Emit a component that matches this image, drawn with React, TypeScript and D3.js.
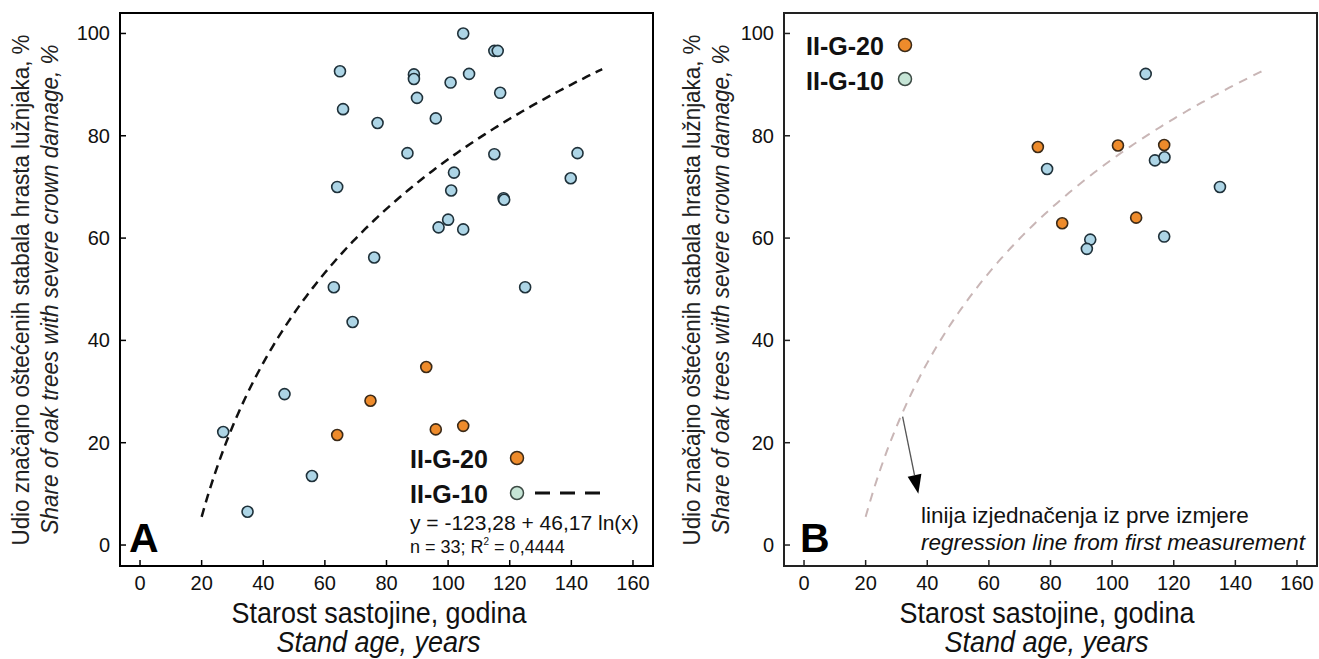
import React from "react";
import * as d3 from "d3";

// ---------- data ----------
const xTicks = [0, 20, 40, 60, 80, 100, 120, 140, 160];
const yTicks = [0, 20, 40, 60, 80, 100];

// Panel A – first measurement
const ageA_G10 = [104.9, 115.0, 116.1, 64.9, 88.9, 88.9, 106.8, 100.8, 116.9, 89.9, 65.9, 96.0, 77.1, 86.8, 115.0, 142.0, 101.9, 139.8, 64.0, 101.0, 118.0, 118.2, 100.0, 96.9, 104.9, 76.0, 62.9, 125.0, 69.0, 46.9, 27.0, 55.8, 34.9];
const damageA_G10 = [100, 96.6, 96.6, 92.6, 92.0, 91.1, 92.1, 90.4, 88.4, 87.4, 85.2, 83.4, 82.5, 76.6, 76.4, 76.6, 72.8, 71.7, 70.0, 69.3, 67.8, 67.5, 63.6, 62.1, 61.7, 56.2, 50.4, 50.4, 43.6, 29.5, 22.1, 13.5, 6.5];
const ageA_G20 = [92.9, 74.8, 64.0, 96.0, 104.9];
const damageA_G20 = [34.8, 28.2, 21.5, 22.6, 23.3];

// Panel B – second measurement
const ageB_G20 = [75.9, 101.9, 116.9, 83.8, 107.8];
const damageB_G20 = [77.8, 78.1, 78.2, 62.9, 64.0];
const ageB_G10 = [110.9, 78.9, 113.9, 117.0, 135.0, 92.9, 91.8, 116.9];
const damageB_G10 = [92.1, 73.5, 75.2, 75.8, 70.0, 59.7, 57.9, 60.3];

// logarithmic regression line as drawn: y = a + b ln(x), x in [20, 150]
const regA = -124.6;
const regB = 43.43;
const regRange = [20, 150];

const legendLabels = ["II-G-20", "II-G-10"];
const equationText = "y = -123,28 + 46,17 ln(x)";

// ---------- style ----------
const FONT = "'Liberation Sans', Arial, Helvetica, sans-serif";
const BLUE = "#add5e6";
const BLUE_STROKE = "#1f313a";
const ORANGE = "#ee8b2b";
const ORANGE_STROKE = "#3b2a18";
const MINT = "#c6e5d6";

const TOP = 13;
const BOTTOM = 566;

function Panel({ left, right, letter, frameColor, children, xTitleShift, yTitleX }: any) {
  const x = d3.scaleLinear().domain([-6.5, 166.5]).range([left, right]);
  const y = d3.scaleLinear().domain([-4.1, 104]).range([BOTTOM, TOP]);
  const cy = (TOP + BOTTOM) / 2;
  const cx = (left + right) / 2 + xTitleShift;
  return (
    <g>
      {children(x, y)}
      <rect x={left} y={TOP} width={right - left} height={BOTTOM - TOP} fill="none" stroke={frameColor} strokeWidth={2} />
      {xTicks.map((t) => (
        <g key={"xt" + t}>
          <line x1={x(t)} x2={x(t)} y1={BOTTOM} y2={BOTTOM - 6} stroke={frameColor} strokeWidth={1.5} />
          <text x={x(t)} y={BOTTOM + 24} textAnchor="middle" fontSize={20} fontFamily={FONT} fill="#111">{t}</text>
        </g>
      ))}
      {yTicks.map((t) => (
        <g key={"yt" + t}>
          <line x1={left} x2={left + 6} y1={y(t)} y2={y(t)} stroke={frameColor} strokeWidth={1.5} />
          <text x={left - 10} y={y(t) + 7} textAnchor="end" fontSize={20} fontFamily={FONT} fill="#111">{t}</text>
        </g>
      ))}
      <text x={left + (letter === "A" ? 9 : 16)} y={BOTTOM - 14} fontSize={41} fontWeight="bold" fontFamily={FONT} fill="#000">{letter}</text>
      <text x={cx - 147} y={623} fontSize={29} fontFamily={FONT} fill="#111" textLength={295} lengthAdjust="spacingAndGlyphs">Starost sastojine, godina</text>
      <text x={cx - 102} y={652} fontSize={29} fontStyle="italic" fontFamily={FONT} fill="#111" textLength={204} lengthAdjust="spacingAndGlyphs">Stand age, years</text>
      <text transform={`translate(${yTitleX[0]},${cy + 256}) rotate(-90)`} fontSize={23.5} fontFamily={FONT} fill="#222" textLength={511} lengthAdjust="spacingAndGlyphs">Udio značajno oštećenih stabala hrasta lužnjaka, %</text>
      <text transform={`translate(${yTitleX[1]},${cy + 245}) rotate(-90)`} fontSize={23.5} fontStyle="italic" fontFamily={FONT} fill="#222" textLength={490} lengthAdjust="spacingAndGlyphs">Share of oak trees with severe crown damage, %</text>
    </g>
  );
}

function regPath(x: any, y: any) {
  const xs = d3.range(regRange[0], regRange[1] + 0.001, 1);
  return d3.line<number>().x((d) => x(d)).y((d) => y(regA + regB * Math.log(d))).curve(d3.curveMonotoneX)(xs) as string;
}

function dots(ages: number[], vals: number[], x: any, y: any, fill: string, stroke: string, key: string) {
  return ages.map((a, i) => (
    <circle key={key + i} cx={x(a)} cy={y(vals[i])} r={5.5} fill={fill} stroke={stroke} strokeWidth={1.6} />
  ));
}

export default function App() {
  return (
    <svg width={1319} height={659} style={{ position: "absolute", left: 0, top: 0, background: "#fff" }}>
      <rect x={0} y={0} width={1319} height={659} fill="#fff" />
      <Panel left={120} right={653} letter="A" frameColor="#000" xTitleShift={-8} yTitleX={[29, 58]}>
        {(x: any, y: any) => (
          <g>
            <path d={regPath(x, y)} fill="none" stroke="#111" strokeWidth={2.5} strokeDasharray="9 6" />
            {dots(ageA_G10, damageA_G10, x, y, BLUE, BLUE_STROKE, "a10")}
            {dots(ageA_G20, damageA_G20, x, y, ORANGE, ORANGE_STROKE, "a20")}
            {/* legend */}
            <text x={410} y={468} fontSize={25} fontWeight="bold" fontFamily={FONT} fill="#111">{legendLabels[0]}</text>
            <circle cx={517} cy={458} r={6.5} fill={ORANGE} stroke={ORANGE_STROKE} strokeWidth={1.5} />
            <text x={410} y={503} fontSize={25} fontWeight="bold" fontFamily={FONT} fill="#111">{legendLabels[1]}</text>
            <circle cx={517} cy={493} r={6.5} fill={MINT} stroke="#3c4a44" strokeWidth={1.5} />
            <line x1={535} x2={600} y1={493} y2={493} stroke="#111" strokeWidth={3} strokeDasharray="15 10" />
            <text x={410} y={530} fontSize={21} fontFamily={FONT} fill="#111">{equationText}</text>
            <text x={410} y={553} fontSize={18} fontFamily={FONT} fill="#111">
              n = 33; R<tspan fontSize={10} dy={-8}>2</tspan><tspan dy={8}> = 0,4444</tspan>
            </text>
          </g>
        )}
      </Panel>
      <Panel left={784} right={1317} letter="B" frameColor="#222" xTitleShift={-4} yTitleX={[700, 729]}>
        {(x: any, y: any) => {
          const ax1 = x(32), ay1 = y(25.1), ax2 = x(37.1), ay2 = y(10.0);
          const ang = Math.atan2(ay2 - ay1, ax2 - ax1);
          const hl = 19, hw = 7;
          const bx = ax2 - hl * Math.cos(ang), by = ay2 - hl * Math.sin(ang);
          const px = -Math.sin(ang) * hw, py = Math.cos(ang) * hw;
          return (
            <g>
              <path d={regPath(x, y)} fill="none" stroke="#c9b6b6" strokeWidth={2} strokeDasharray="9 7" />
              {dots(ageB_G10, damageB_G10, x, y, BLUE, BLUE_STROKE, "b10")}
              {dots(ageB_G20, damageB_G20, x, y, ORANGE, ORANGE_STROKE, "b20")}
              <line x1={ax1} y1={ay1} x2={bx} y2={by} stroke="#555" strokeWidth={1.3} />
              <polygon points={`${ax2},${ay2} ${bx + px},${by + py} ${bx - px},${by - py}`} fill="#000" />
              <text x={921} y={523} fontSize={22.5} fontFamily={FONT} fill="#111">linija izjednačenja iz prve izmjere</text>
              <text x={921} y={550} fontSize={22.5} fontStyle="italic" fontFamily={FONT} fill="#111">regression line from first measurement</text>
              {/* legend */}
              <text x={806} y={55} fontSize={25} fontWeight="bold" fontFamily={FONT} fill="#111">{legendLabels[0]}</text>
              <circle cx={905} cy={45} r={6.5} fill={ORANGE} stroke={ORANGE_STROKE} strokeWidth={1.5} />
              <text x={806} y={90} fontSize={25} fontWeight="bold" fontFamily={FONT} fill="#111">{legendLabels[1]}</text>
              <circle cx={905} cy={79} r={6.5} fill={MINT} stroke="#3c4a44" strokeWidth={1.5} />
            </g>
          );
        }}
      </Panel>
    </svg>
  );
}
